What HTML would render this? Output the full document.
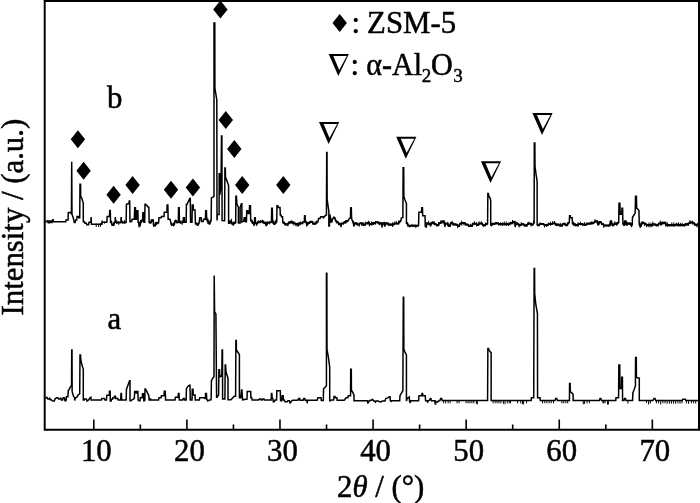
<!DOCTYPE html>
<html><head><meta charset="utf-8"><title>XRD patterns</title>
<style>
html,body{margin:0;padding:0;background:#fff}
body{width:700px;height:503px;overflow:hidden;font-family:"Liberation Serif",serif}
svg{display:block;position:absolute;left:0;top:0;filter:grayscale(1)}
text{font-family:"Liberation Serif",serif;font-size:30.8px;fill:#000;stroke:#000;stroke-width:0.5px}
.tr{fill:none;stroke:#000;stroke-width:1.5;stroke-linejoin:miter;stroke-miterlimit:2}
</style></head>
<body>
<svg width="700" height="503" viewBox="0 0 700 503">
<rect x="0" y="0" width="700" height="503" fill="#fff"/>
<path class="tr" d="M45.43 221.86 L46.86 221.86 L47.14 220.71 L48 220.71 L48.29 222.86 L49.43 222.86 L49.71 221 L50.86 221 L51.14 222.43 L52 222.43 L52.29 220.43 L53.14 219.29 L53.57 221.86 L65.71 221.86 L66 220 L68 220 L68.29 212.43 L70.43 212.43 L71.43 214.14 L71.71 161.86 L72 214.14 L73.43 218.57 L74.29 222.43 L75.14 222.43 L75.71 220 L76.71 220 L77 216.43 L78.57 216.43 L78.71 217.86 L79.71 217.86 L80 184.29 L80.57 184.29 L80.71 196.43 L81.71 198.14 L83.29 203.29 L83.29 221.86 L84.57 221.86 L85 223.29 L86.43 223.29 L86.86 224.71 L88.57 224.71 L89 222.14 L90.86 222.14 L91.14 217.14 L91.43 224.29 L101.43 224.29 L101.71 222.14 L106.86 222.14 L107.14 216.43 L109.43 216.43 L109.71 210.43 L110.29 210.43 L110.57 222.14 L111.43 222.14 L112.14 224.71 L113.57 224.71 L114.29 222.14 L115.14 222.14 L115.29 217.14 L115.71 222.14 L120.86 222.14 L121.14 217.14 L121.57 222.14 L126.14 222.14 L126.43 204.29 L128.86 203.57 L129.29 201 L129.71 201 L130 222.14 L130.71 221.43 L131.71 221.43 L132.14 219.29 L134.29 219.29 L134.71 207.86 L135.43 207.86 L135.71 219.29 L136.43 219.29 L136.71 210.71 L137.86 210.71 L138.14 222.14 L138.86 222.14 L139.14 225 L140.29 225 L140.71 220.71 L142.57 220.71 L142.86 212.86 L143.57 212.86 L143.86 222.14 L144.71 222.14 L145 204.29 L145.71 204.29 L148.29 207.14 L148.86 207.14 L149.14 222.14 L151.14 222.14 L151.43 220 L153.29 220 L153.57 225 L155.43 225 L155.71 222.86 L158.57 222.86 L159 217.86 L161.14 217.86 L161.43 216.43 L164 216.43 L164.29 212.14 L166.86 212.14 L167.14 205 L167.86 205 L168.14 219.29 L170 219.29 L170.71 222.14 L171.43 224.29 L174.29 224.29 L175 220.71 L176.43 220.71 L176.86 222.14 L178.29 222.14 L178.57 207.86 L179.14 207.86 L179.43 222.14 L183.14 222.14 L183.43 217.86 L184.29 217.86 L184.57 222.14 L186.14 222.14 L186.43 204.29 L187.14 204.29 L189.71 198.57 L190.29 198.57 L190.57 222.14 L192 222.14 L192.29 205 L193.14 205 L193.43 210 L195 210 L195.43 223.57 L197.14 223.57 L197.86 225 L199.29 222.14 L199.71 217.86 L201.14 217.86 L201.43 221.45 L203.14 221.47 L203.57 219.34 L205.43 219.36 L205.71 210.71 L206.43 210.71 L206.71 220.09 L207.86 220.1 L208.29 222.97 L210 222.99 L210.29 220.85 L211.14 220.86 L211.43 197.86 L212.86 197.14 L214 196.43 L214 23 L214.8 23 L214.9 88 L216.8 100 L217 220.53 L217.3 214.4 L219.1 214.4 L219.2 173.8 L219.6 173.8 L219.8 195 L221 187 L221.5 136 L221.9 136 L222.1 220.59 L224.6 220.63 L224.9 167.9 L225.3 167.9 L225.5 177 L228.6 185.6 L228.6 221.98 L228.57 222.52 L230 222.54 L230.43 221.11 L231.43 221.11 L231.86 223.26 L232.86 223.26 L233.29 224.69 L233.86 222.55 L235.71 222.55 L235.86 196.29 L236.43 196.29 L236.86 203.86 L238.43 207.43 L238.43 222.98 L240.14 222.98 L240.14 207.14 L241.43 203.86 L241.86 203.86 L241.86 222.13 L243.86 221.13 L244.14 217.86 L245 217.86 L245.29 221.85 L246.43 221.85 L246.71 210.71 L247.86 210.71 L248.14 213.57 L249.29 213.57 L249.57 205.71 L250.43 205.71 L250.71 220.43 L251.86 220.43 L252.43 222.57 L253.57 222.57 L254.14 225.43 L254.71 217.86 L255.29 217.86 L255.57 223.3 L257.14 223.3 L257.86 221.87 L260 221.87 L260.43 221.15 L263.57 221.16 L263.86 222.59 L265.71 222.59 L266.14 225.45 L267.14 222.59 L270.71 221.89 L271.43 221.89 L271.71 208.14 L272.29 208.14 L272.57 222.6 L274.29 222.6 L274.71 224.03 L275.29 221.89 L276.71 221.9 L277 205.71 L277.86 205.71 L278.14 207.57 L280 207.57 L280.29 215 L281 215 L281.43 216.71 L282.57 216.71 L282.86 222.62 L284.29 222.62 L285 224.05 L287.86 224.05 L288.57 222.34 L290 222.35 L290.71 221.49 L292.14 221.49 L292.86 222.92 L295 222.92 L295.71 223.78 L297.86 223.79 L298.57 225.21 L299.29 222.93 L302.14 222.94 L302.86 221.95 L304.29 221.95 L304.57 215.71 L305.14 215.71 L305.43 221.96 L306.43 221.96 L306.71 225.54 L307.57 222.68 L309.29 222.69 L310 221.55 L312.14 221.57 L312.86 223.43 L315.71 223.44 L316.43 222.02 L317.86 222.03 L318.57 218.57 L320 218.57 L320.71 216.71 L322.86 216.71 L323.29 217.86 L323.57 217.86 L323.86 217.14 L325.29 215.71 L326.43 215 L326.71 152.43 L327 152.43 L327.14 199.29 L328.86 211.43 L328.86 225.95 L329.43 225.95 L329.86 214.29 L330.43 217.86 L331 222.1 L331.86 222.1 L332.43 218.57 L333.57 218.57 L334 217.14 L335 217.86 L335.43 220.69 L336.43 220.7 L336.71 221.7 L337.86 221.7 L338.57 223.57 L340.43 223.58 L341 225.72 L341.57 223.15 L343.57 223.16 L344.29 221.74 L345.71 221.75 L346.43 220.75 L348.14 220.76 L349.29 218.57 L350.43 217.86 L350.71 207.86 L351.29 207.86 L351.57 218.57 L352.43 220.78 L353.29 221.79 L353.86 225.79 L354.43 222.93 L356.43 222.94 L357.14 224.1 L359.29 224.11 L360 222.96 L362.14 222.97 L362.86 224.41 L365 224.42 L365.71 222.99 L367.86 222.73 L368.57 221.87 L369.29 223.73 L372.14 223.75 L372.86 222.75 L375 222.76 L375.71 221.91 L377.86 221.92 L378.57 223.06 L380.71 223.07 L381.43 222.37 L382.14 225.94 L382.86 223.09 L384.29 223.09 L384.71 225.96 L385.29 223.1 L387.86 223.11 L388.57 224.27 L393.57 224.29 L394.29 223.15 L398.57 223.17 L399.29 221.46 L400.71 221.04 L401.43 218.14 L402.86 217.57 L403.14 167.86 L403.71 167.86 L403.86 196.43 L405 200 L406.43 203.57 L406.43 223.21 L407.57 223.22 L407.86 225.37 L418.57 225.43 L418.86 212.14 L421.43 212.14 L421.86 207.86 L422.43 207.86 L422.71 215.71 L425 215.71 L425.29 226.17 L426.43 226.18 L426.71 223.04 L428.57 223.05 L429.29 224.06 L431.43 224.06 L432.14 222.21 L433.57 222.21 L434.29 223.64 L435.71 223.65 L436.43 224.79 L438.57 224.79 L439 222.65 L440.71 222.66 L441.43 221.23 L444.29 221.24 L444.71 226.24 L445.29 223.38 L447.86 223.39 L448.57 225.54 L450 225.54 L450.71 222.69 L452.14 222.69 L453.57 224.12 L456.43 224.13 L457.86 225.57 L459.29 225.57 L460 223.42 L462.14 222.72 L465 222.73 L465.71 224.16 L467.86 224.16 L468.57 225.6 L472.14 225.6 L472.86 223.46 L476.43 223.47 L477.14 224.62 L478.57 224.62 L479 223.19 L482.14 223.2 L482.86 224.91 L485 224.92 L485.71 223.78 L487.57 223.79 L487.86 193.57 L488.43 193.57 L488.71 195.71 L489.86 197.86 L490.71 200 L490.71 224.94 L491.57 224.94 L492.14 223.51 L495 223.52 L495.71 222.81 L497.86 222.82 L498.57 223.82 L504.86 223.83 L504.86 223.83 L509.29 223.85 L510 222.85 L512.14 222.85 L512.86 221.86 L515 221.86 L515.29 226.43 L515.86 223.29 L517.86 223.3 L518.57 224.73 L520.71 224.74 L521.43 223.88 L523.57 223.89 L524.29 225.03 L527.14 225.03 L527.86 223.33 L530.71 223.33 L531.43 224.34 L532.86 224.34 L533.57 222.91 L534.14 222.91 L534.29 143 L534.86 143 L535 166.43 L536.14 175 L537.14 181.43 L537.14 224.78 L539.29 224.79 L540 223.64 L543.57 223.64 L544.29 224.79 L547.86 224.79 L548.57 223.64 L552.14 223.64 L552.86 222.93 L555 222.93 L555.71 224.36 L558.57 224.36 L559.29 225.07 L562.14 225.07 L562.86 223.64 L565 223.64 L565.71 224.79 L567.14 224.79 L567.86 222.93 L569.29 222.5 L569.57 215.71 L570.29 215.71 L570.57 217.86 L572.14 217.86 L572.57 223.64 L574.29 223.64 L575 224.79 L577.86 224.79 L578.57 223.64 L582.14 223.64 L582.86 224.36 L586.43 224.36 L587.14 223.36 L590.71 223.36 L591.43 222.5 L593.57 222.5 L594.86 221.5 L595 221 L597.25 221 L597.7 224 L598.75 224 L599.2 221.75 L601 221.75 L601.75 223.7 L603.25 223.7 L603.7 225.2 L610 225.2 L610.45 221 L611.5 221 L611.95 224.3 L613 224.3 L613.45 225.2 L614.5 223.25 L616 223.25 L616.75 224.3 L617.5 222.5 L618.7 222.5 L619 203.3 L619.9 203.3 L620.2 214.25 L621.7 214.25 L622 208.25 L622.6 208.25 L622.9 224 L623.8 224 L624.25 225.2 L624.7 221 L625.75 221 L626.2 224.3 L627.25 224.3 L627.7 223.25 L630.25 223.25 L631 224.75 L632.2 224.75 L632.5 217.25 L634 215 L635.2 212.75 L635.5 196.25 L636.4 196.25 L636.7 208.25 L637.75 209 L638.95 210.5 L639.25 224.75 L640 225.5 L641.2 225.5 L641.5 222.5 L643.75 222.5 L644.2 223.25 L646 223.7 L646.75 224.75 L652 224.75 L652.75 224 L655 224 L655.75 224.75 L658 224.75 L658.75 223.7 L660.25 222.8 L661 224.75 L661.75 222.8 L665.5 222.8 L666.25 224.75 L676 224.75 L676.75 223.7 L677.5 224.75 L685 224.75 L685.75 223.7 L687.25 223.7 L688 224.3 L689.5 222.5 L692.5 221.9 L694 223.25 L695.49 224.3 L696.99 224.75 L698.19 223.25"/>
<path class="tr" d="M45.43 398.57 L46 397.57 L47.14 397.57 L47.86 399 L49.29 399 L49.71 397.86 L50.29 399.57 L51.43 400 L52.86 401 L54.29 401 L55 399 L56.43 397.86 L57.86 397.86 L58.57 399 L60 399 L60.71 397.86 L61.43 400 L62.57 400 L63.14 397.86 L64.29 397.86 L65 400.71 L66 400.71 L66.43 396.71 L67.86 396.71 L68.29 390.43 L69.29 389.29 L70.43 386.71 L71.57 385.71 L71.71 350 L72 350 L72.14 391.43 L72.86 394.29 L73.71 396.71 L74.57 397.57 L74.71 400.43 L75.43 397.86 L76.43 397.29 L77.43 396.43 L78.29 394.71 L79.71 393.86 L80 355 L80.57 355 L80.71 358.57 L81.43 362.86 L82.43 366.43 L83.29 369 L83.29 400 L84.29 400 L84.71 399 L86.43 399 L87.14 401 L88.57 400 L90 397.86 L90.86 397.29 L91.14 400 L101.43 400 L101.86 398.57 L104.29 398.57 L105 400 L106.43 400 L106.86 395.29 L109.29 395 L109.43 391.14 L110.14 391.14 L110.29 401 L111.14 401 L111.43 399.29 L112.57 399.29 L112.86 397.86 L114.29 397.86 L114.57 396.14 L115.43 396.14 L115.71 398.57 L117.86 398.57 L118.29 400 L120.71 400 L121 393.57 L121.43 393.57 L121.71 400 L126.14 400 L126.43 389.29 L127.43 386.71 L128.57 383.57 L129.57 380.71 L130 380.71 L130 400.71 L130 400.71 L131.14 400.71 L131.71 400 L132.86 399.29 L134.29 398.57 L134.71 391.43 L136 391.43 L136.29 393.57 L136.86 391.43 L137.86 391.43 L138.14 400 L138.86 400.71 L140 400.71 L140.29 397.86 L142.14 397.86 L142.57 393.86 L143.57 393.86 L143.86 401.43 L144.29 400 L144.86 400 L145 389 L145.43 389 L146.86 391.43 L148.29 394.71 L148.86 395.71 L149.14 400 L150 400 L150.43 398.57 L151.14 400 L158.57 400 L159 397.86 L161.14 397.86 L161.43 395.71 L164 395.71 L164.29 391.14 L165.29 391.14 L165.57 400 L175 400 L175.43 397.14 L178.14 397.14 L178.43 393.57 L179 393.57 L179.29 400 L182.86 400 L183.29 398.57 L184.29 398.57 L184.71 400 L186.14 400 L186.43 388.57 L187.86 386.43 L189.29 385.29 L190 384.71 L190.29 400 L192 400 L192.29 389.29 L193 389.29 L193.29 395 L195 395 L195.29 400 L199.29 400 L199.71 397.86 L204.29 397.86 L205 398.57 L205.43 398.57 L205.57 393.57 L206.43 393.57 L206.71 399.29 L207.86 401 L209.29 400 L210.71 400 L211.14 399 L211.43 380.71 L212.86 377.86 L214 376.71 L214.2 275.5 L214.6 312 L215.9 314 L216.6 397.7 L218.6 395 L218.9 369.8 L219.5 369.8 L219.8 376.8 L221.8 376 L222.1 350 L222.5 350 L222.6 399 L224.9 399 L225.2 365 L225.6 365 L226 372 L228 378.2 L228 399.8 L231 399.8 L234.2 396.3 L235.6 396.3 L235.9 340.6 L236.3 340.6 L236.4 350 L239.4 354.5 L239.4 397.7 L240.8 397.7 L241.5 390 L241.9 390 L242.6 399.8 L247 399 L247.2 391.4 L250.3 391.4 L250.29 391.43 L250.71 391.43 L250.86 397.86 L251.71 397.86 L252.14 400 L258.57 400 L259.29 399 L260.71 399 L261.14 400 L262.14 400 L262.57 399 L264 399 L264.29 400 L271.14 400 L271.43 393.57 L271.86 393.57 L272.14 397.86 L272.86 398.57 L273.29 401.86 L274.29 401.86 L275 400 L276.57 400 L276.86 390.71 L280.29 390.71 L280.57 400.71 L281.71 400.71 L282.29 395.71 L283.14 395.71 L283.43 400 L284.29 400 L285 401.86 L287.14 401.86 L287.86 400.71 L289.29 400.71 L290 403.29 L291.43 401 L292.86 400.14 L297.86 400.14 L298.57 398.57 L299.71 398.57 L300 400.14 L303.14 400.14 L303.71 398.57 L304.86 398.57 L305.14 400.14 L306.86 400.14 L307.14 403.29 L307.57 400.14 L317.14 400.14 L317.86 397.86 L321 397.86 L321.29 400.43 L323.29 400.43 L323.57 388.57 L325 387.57 L326.43 385.71 L326.43 273.29 L326.86 273.29 L327 349.29 L328.29 356.43 L329.71 367.14 L329.71 400.71 L330.71 400.71 L331.43 400 L333.57 400 L334 396.43 L335 396.43 L335.43 397.86 L336.86 397.86 L337.14 400.14 L344.29 400.14 L345 399.29 L346 397.86 L347.86 397.86 L348.29 395.71 L349.86 395.71 L349.86 395.71 L350.57 395.71 L350.71 369.29 L351.29 369.29 L351.43 390 L352.57 392.14 L354 395 L354 400.71 L367.43 400.71 L367.86 403.57 L368.57 401.86 L369.29 400.71 L371.71 400 L372.57 399.29 L373.57 401 L375 401 L375.43 402.14 L376.43 401 L378.57 401 L379.29 401.86 L381.43 401.86 L382.14 401 L385 401 L385.71 398.57 L387.86 397.86 L389.29 396.71 L390 396.71 L390.29 400.71 L391.14 401.43 L391.71 400.71 L399.71 400.71 L400 395.71 L401.14 393.57 L402.86 390.71 L403.29 297.29 L403.71 297.29 L403.86 349.29 L405 352.14 L406.43 355 L406.43 401 L407.14 398.57 L409.29 397.14 L409.57 401 L410.29 402.86 L410.86 400.71 L418.57 400.71 L419 395.71 L421.71 395.71 L422 393.57 L422.57 393.57 L422.86 395.71 L425.29 395.71 L425.57 400.71 L427.14 400.71 L427.57 402.14 L428.29 400.71 L429.71 400 L430.29 398.57 L430.86 398.57 L431.43 400.71 L435 400.71 L435.71 402.14 L437.14 402.14 L438.57 401 L439.86 400.71 L439.86 400.43 L440.71 398.57 L441.71 398.57 L442.14 400.43 L487.57 400.43 L487.86 348.57 L488.57 348.57 L488.86 350 L491.14 352.86 L491.14 400.43 L520 400.43 L520 400.43 L531.14 400.43 L531.43 397.86 L533.71 397.86 L534.14 268.57 L534.57 268.57 L534.71 293.57 L535.71 303.57 L537.43 313.57 L537.57 397.86 L540 397.86 L540.29 400.43 L555 400.43 L555.71 398.57 L556.86 398.57 L557.43 400.43 L569.43 400.43 L569.57 383.57 L570.14 383.57 L570.29 391.43 L571.71 392.86 L573.14 394.29 L573.14 400.43 L599.29 400.43 L600 398.57 L600.86 398.57 L601.43 400.43 L615.71 400.43 L616 397.86 L618.57 397.86 L618.86 365 L619.71 365 L620 388.57 L621.57 388.57 L621.71 377.14 L622.43 377.14 L622.57 400.43 L624 400.43 L624.57 398.57 L625.43 398.57 L626 400.43 L632.57 400.43 L632.86 392.86 L634.29 389.29 L635.43 385.71 L635.57 357.57 L636.29 357.57 L636.43 377.14 L637.43 377.86 L639.29 378.14 L639.29 400.43 L652.86 400.43 L654 398.57 L655 398.57 L655.71 400.43 L682.14 400.43 L682.86 399.29 L685.43 399.29 L686 400.43 L698.29 400.43"/>
<path class="tr" style="stroke-width:1.2" d="M110.57 222.94 L111.43 222.94 L112.14 225.51 L113.57 225.51 L114.29 222.94 L115.14 222.94 M115.71 222.94 L120.86 222.94 M121.57 222.94 L126.14 222.94 M138.14 222.94 L138.86 222.94 L139.14 225.8 L140.29 225.8 L140.71 221.51 L142.57 221.51 M149.14 222.94 L151.14 222.94 L151.43 220.8 L153.29 220.8 L153.57 225.8 L155.43 225.8 L155.71 223.66 L158.57 223.66 M170.71 222.94 L171.43 225.09 L174.29 225.09 L175 221.51 L176.43 221.51 L176.86 222.94 L178.29 222.94 M179.43 222.94 L183.14 222.94 M195.43 224.37 L197.14 224.37 L197.86 225.8 L199.29 222.94 M206.71 220.89 L207.86 220.9 L208.29 223.77 L210 223.79 L210.29 221.65 L211.14 221.66 M228.6 222.78 L228.57 223.32 L230 223.34 L230.43 221.91 L231.43 221.91 L231.86 224.06 L232.86 224.06 L233.29 225.49 L233.86 223.35 L235.71 223.35 M250.71 221.23 L251.86 221.23 L252.43 223.37 L253.57 223.37 L254.14 226.23 M255.57 224.1 L257.14 224.1 L257.86 222.67 L260 222.67 L260.43 221.95 L263.57 221.96 L263.86 223.39 L265.71 223.39 L266.14 226.25 L267.14 223.39 L270.71 222.69 L271.43 222.69 M272.57 223.4 L274.29 223.4 L274.71 224.83 L275.29 222.69 L276.71 222.7 M282.86 223.42 L284.29 223.42 L285 224.85 L287.86 224.85 L288.57 223.14 L290 223.15 L290.71 222.29 L292.14 222.29 L292.86 223.72 L295 223.72 L295.71 224.58 L297.86 224.59 L298.57 226.01 L299.29 223.73 L302.14 223.74 L302.86 222.75 L304.29 222.75 M305.43 222.76 L306.43 222.76 L306.71 226.34 L307.57 223.48 L309.29 223.49 L310 222.35 L312.14 222.37 L312.86 224.23 L315.71 224.24 L316.43 222.82 L317.86 222.83 M335.43 221.49 L336.43 221.5 L336.71 222.5 L337.86 222.5 L338.57 224.37 L340.43 224.38 L341 226.52 L341.57 223.95 L343.57 223.96 L344.29 222.54 L345.71 222.55 L346.43 221.55 L348.14 221.56 M352.43 221.58 L353.29 222.59 L353.86 226.59 L354.43 223.73 L356.43 223.74 L357.14 224.9 L359.29 224.91 L360 223.76 L362.14 223.77 L362.86 225.21 L365 225.22 L365.71 223.79 L367.86 223.53 L368.57 222.67 L369.29 224.53 L372.14 224.55 L372.86 223.55 L375 223.56 L375.71 222.71 L377.86 222.72 L378.57 223.86 L380.71 223.87 L381.43 223.17 L382.14 226.74 L382.86 223.89 L384.29 223.89 L384.71 226.76 L385.29 223.9 L387.86 223.91 L388.57 225.07 L393.57 225.09 L394.29 223.95 L398.57 223.97 L399.29 222.26 L400.71 221.84 M406.43 224.01 L407.57 224.02 L407.86 226.17 L418.57 226.23 M425.29 226.97 L426.43 226.98 L426.71 223.84 L428.57 223.85 L429.29 224.86 L431.43 224.86 L432.14 223.01 L433.57 223.01 L434.29 224.44 L435.71 224.45 L436.43 225.59 L438.57 225.59 L439 223.45 L440.71 223.46 L441.43 222.03 L444.29 222.04 L444.71 227.04 L445.29 224.18 L447.86 224.19 L448.57 226.34 L450 226.34 L450.71 223.49 L452.14 223.49 L453.57 224.92 L456.43 224.93 L457.86 226.37 L459.29 226.37 L460 224.22 L462.14 223.52 L465 223.53 L465.71 224.96 L467.86 224.96 L468.57 226.4 L472.14 226.4 L472.86 224.26 L476.43 224.27 L477.14 225.42 L478.57 225.42 L479 223.99 L482.14 224 L482.86 225.71 L485 225.72 L485.71 224.58 L487.57 224.59 M490.71 225.74 L491.57 225.74 L492.14 224.31 L495 224.32 L495.71 223.61 L497.86 223.62 L498.57 224.62 L504.86 224.63 L504.86 224.63 L509.29 224.65 L510 223.65 L512.14 223.65 L512.86 222.66 L515 222.66 L515.29 227.23 L515.86 224.09 L517.86 224.1 L518.57 225.53 L520.71 225.54 L521.43 224.68 L523.57 224.69 L524.29 225.83 L527.14 225.83 L527.86 224.13 L530.71 224.13 L531.43 225.14 L532.86 225.14 L533.57 223.71 L534.14 223.71 M537.14 225.58 L539.29 225.59 L540 224.44 L543.57 224.44 L544.29 225.59 L547.86 225.59 L548.57 224.44 L552.14 224.44 L552.86 223.73 L555 223.73 L555.71 225.16 L558.57 225.16 L559.29 225.87 L562.14 225.87 L562.86 224.44 L565 224.44 L565.71 225.59 L567.14 225.59 L567.86 223.73 L569.29 223.3 M572.57 224.44 L574.29 224.44 L575 225.59 L577.86 225.59 L578.57 224.44 L582.14 224.44 L582.86 225.16 L586.43 225.16 L587.14 224.16 L590.71 224.16 L591.43 223.3 L593.57 223.3 L594.86 222.3 L595 221.8 L597.25 221.8 L597.7 224.8 L598.75 224.8 L599.2 222.55 L601 222.55 L601.75 224.5 L603.25 224.5 L603.7 226 L610 226 L610.45 221.8 L611.5 221.8 L611.95 225.1 L613 225.1 L613.45 226 L614.5 224.05 L616 224.05 L616.75 225.1 L617.5 223.3 L618.7 223.3 M622.9 224.8 L623.8 224.8 L624.25 226 L624.7 221.8 L625.75 221.8 L626.2 225.1 L627.25 225.1 L627.7 224.05 L630.25 224.05 L631 225.55 L632.2 225.55 M639.25 225.55 L640 226.3 L641.2 226.3 L641.5 223.3 L643.75 223.3 L644.2 224.05 L646 224.5 L646.75 225.55 L652 225.55 L652.75 224.8 L655 224.8 L655.75 225.55 L658 225.55 L658.75 224.5 L660.25 223.6 L661 225.55 L661.75 223.6 L665.5 223.6 L666.25 225.55 L676 225.55 L676.75 224.5 L677.5 225.55 L685 225.55 L685.75 224.5 L687.25 224.5 L688 225.1 L689.5 223.3 L692.5 222.7 L694 224.05 L695.49 225.1 L696.99 225.55 L698.19 224.05"/>
<path fill="none" stroke="#000" stroke-width="1" d="M96.2 223.7v3.3 M98.6 223.7v3.3 M100.4 223.4v3.6 M102.2 220.2v4.6 M104.6 221.5v2.2 M111.6 220.7v3.5 M113.8 222.5v3.1 M116.7 220.2v3.7 M118.7 221.5v3.3 M122.6 220.9v2.6 M124.4 220.2v3.3 M139.1 223.5v4.2 M141.5 219.5v3.4 M150.1 220.9v3 M152.1 219.1v2.5 M153.9 223.1v3.7 M156.3 221.7v3.4 M171.7 222.4v3.3 M173.5 222.4v4.1 M175.5 219.5v2.8 M180.4 220.6v2.9 M182.2 220.2v4.6 M196.4 222.4v3 M207.7 218.2v4.1 M209.5 222.4v2.4 M229.6 220.2v3.7 M231.4 218.8v4.1 M233.8 221.6v3.4 M251.7 219.8v2.8 M256.6 222.4v3.6 M258.4 220.4v2.9 M260.4 220.1v2.8 M262.4 219.7v3.7 M264.8 222v2.2 M267.2 221.1v4.2 M269.4 221.3v3.1 M273.6 220.3v4.5 M275.8 219.6v4.5 M283.9 221.7v2.3 M285.9 223.2v2.5 M287.9 223.5v2.8 M289.9 221.1v3 M291.7 220.6v3.1 M293.9 221v4.6 M296.1 222.9v3.6 M297.9 222.3v4.2 M300.3 221.4v3.7 M302.7 221.6v2.8 M306.4 221.4v2.2 M308.2 221.8v3.1 M310.2 221v2.4 M312 221v2 M314 221.5v3.3 M316.2 220.5v3.3 M336.4 219.8v3.6 M338.8 222.7v2.7 M341 223.7v3.7 M343.4 222.6v2 M345.8 220.1v3.7 M353.4 221.6v2.6 M355.4 222.3v2.4 M357.6 222.6v3.1 M359.4 223v3.6 M361.6 222.1v3.6 M363.4 222.5v3.7 M365.2 221.7v4.1 M367.4 221.9v2.7 M369.4 221.8v4.6 M371.6 221.4v3.9 M373.6 221.9v3.1 M375.6 221.1v3.6 M378 221v2.6 M379.8 221.9v3.4 M382 224.5v3.6 M384.2 221.6v3.3 M386.4 222.5v2.2 M388.2 222.8v3.1 M390.2 223.1v2.8 M392.6 222.4v4.6 M394.4 221.7v3.3 M396.2 220.9v3.7 M398.6 220.7v3.9 M407.4 222.3v3.1 M409.6 224.8v2.8 M412 223.9v2.9 M414 224.5v2.5 M415.8 224.5v3.6 M426.3 223.9v3.9 M428.7 220.9v4.1 M430.7 222.2v4.6 M432.7 221.6v2 M434.5 221.7v3.5 M436.9 223.9v2.5 M438.7 223v2.8 M440.9 220.4v3.5 M443.1 220v3.9 M445.5 222.5v2.3 M447.7 221.9v4.2 M450.1 223.3v3.5 M452.1 220.8v4.6 M453.9 222.6v3.1 M455.7 223.2v2.5 M457.7 223.9v4.2 M459.5 223.1v3.3 M461.7 220.6v5 M464.1 222.1v3.3 M465.9 223.3v2.5 M468.1 224v2 M470.5 223.7v3.3 M472.3 223.7v3.3 M474.3 221.2v4.1 M476.7 222v4.6 M479.1 221.3v3.5 M481.3 221.3v3.5 M483.7 224v3.1 M485.5 222.6v3.7 M491.7 224v2.2 M494.1 222.9v2.2 M496.3 222.2v2.2 M498.5 222.8v2.7 M500.5 222.3v3.1 M502.3 222.3v3.7 M504.3 221.5v3.9 M506.3 221.5v4.5 M508.7 222.6v3.4 M510.7 221.7v3 M512.5 220v4.1 M514.3 220.7v3.9 M516.7 221.8v2.9 M519.1 223.5v3.9 M521.3 222.1v3.3 M523.1 223v2.3 M524.9 223.8v3 M526.7 224.1v2.7 M528.7 221.8v3.3 M531.1 223v3.6 M533.5 220.7v4.1 M538.1 223.6v2.6 M540.1 222.1v2.9 M542.3 223v2 M544.5 224.2v3.3 M546.5 224.2v2.4 M548.3 222.5v2.9 M550.5 221.7v4.1 M552.7 221.1v3.5 M554.5 221v3.5 M556.3 223.5v2.7 M558.1 223.5v2.5 M560.3 222.8v4.1 M562.3 223.5v3.4 M564.3 222.4v3 M566.1 223.6v2.6 M567.9 222.3v3.3 M573.6 221.7v4.1 M575.6 223.3v2.9 M578 222.3v4.5 M580.4 221.7v3.7 M582.4 223v2.7 M584.4 222.1v3.9 M586.8 222.7v2.6 M588.8 222.8v2 M591 221.5v3.1 M592.8 221.9v2.8 M595 219.2v3.5 M597.2 220.4v2.8 M599.2 221v2.7 M601.6 222.6v2.4 M603.8 224v3.9 M606 224.3v2.3 M608.2 224.3v2.7 M610.2 223v2.4 M612.6 223.7v2.8 M614.8 221.3v3.5 M616.8 222.4v3.3 M623.9 223.1v2.6 M625.9 220.6v4.2 M627.7 221.8v2.9 M629.9 222.1v2.8 M631.7 222.8v4.6 M640.2 223.2v5 M642.6 221.3v3.4 M644.6 222.2v3.9 M646.6 224v3.3 M649 222.4v5 M651 222.8v4.6 M652.8 221.7v5 M654.8 223.4v2 M656.6 223.8v2.7 M658.4 222.6v3.7 M660.2 220.5v3.7 M662.2 221.3v3.3 M664 221.3v2.9 M665.8 221.4v5 M667.6 222.4v4.5 M669.8 224.2v2.4 M671.8 222.4v3.9 M673.8 222.4v4.5 M676.2 222.9v2.9 M678.6 222.4v4.1 M680.4 222.8v3.5 M682.2 222.8v3.5 M684.4 223.6v3 M686.4 223.1v2.8 M688.2 222.5v3.3 M690 220.1v3.9 M692.4 220.7v3.9 M694.6 222.2v3.7 M697 224.1v3.3"/>
<path fill="none" stroke="#000" stroke-width="1" d="M427.6 400.4v2.7 M434.8 400.4v4.1 M435.8 400.4v4.7 M443.6 400.4v2.9 M445.6 400.4v2.9 M448.1 400.4v2.9 M450.1 400.4v2.9 M457.1 400.4v2.9 M459.1 400.4v2.9 M466.1 400.4v2.9 M468.1 400.4v2.9 M470 400.4v2.9 M471.9 400.4v2.9 M473.8 400.4v2.9 M476.4 400.4v3.5 M477.4 400.4v3.9 M493.1 400.4v2.9 M495.1 400.4v2.9 M497 400.4v2.9 M498.9 400.4v2.9 M500.8 400.4v2.9 M503.4 400.4v3.5 M505 400.4v3.8 M507.3 400.4v2.9 M509.2 400.4v2.9 M510.5 400.4v2.9 M517.6 400.4v2.9 M520.8 400.4v3.1 M522.5 400.4v3.8 M523.6 400.4v4 M526.6 400.4v2.9 M542.6 400.4v2.9 M544.8 400.4v2.9 M546.9 400.4v2.9 M549.1 400.4v2.9 M551.2 400.4v2.9 M553.6 400.4v2.9 M561.9 400.4v2.9 M563.8 400.4v2.9 M565.8 400.4v2.9 M567.7 400.4v2.9 M583.3 400.4v3.9 M584.6 400.4v3.5 M587 400.4v2.9 M589.3 400.4v2.9 M603.7 400.4v2.9 M602.9 400.4v2.7 M605 400.4v2.9 M607.5 400.4v4.1 M608.4 400.4v4.1 M627.9 400.4v3.3 M646.4 400.4v2.5 M648.6 400.4v4.1 M650.3 400.4v3.1 M656.4 400.4v2.9 M658.6 400.4v2.9 M660.7 400.4v4.1 M662.9 400.4v2.9 M665 400.4v2.9 M667.1 400.4v3.3 M669.3 400.4v3.3 M671.4 400.4v3.3 M673.6 400.4v3.3 M675.7 400.4v3.3 M677.9 400.4v2.9 M680 400.4v3.3 M682.1 400.4v2.9 M686.4 400.4v2.9 M688.6 400.4v3.5 M691.4 400.4v2.9 M693.6 400.4v2.9 M695.7 400.4v3.1"/>
<path d="M44.7 0 V429.85 H700 M43.7 0.9 H700 M699 0 V430.8" fill="none" stroke="#000" stroke-width="2"/>
<path d="M93.80 429.85 v-10.4 M140.34 429.85 v-5.4 M186.89 429.85 v-10.4 M233.44 429.85 v-5.4 M279.98 429.85 v-10.4 M326.52 429.85 v-5.4 M373.07 429.85 v-10.4 M419.62 429.85 v-5.4 M466.16 429.85 v-10.4 M512.70 429.85 v-5.4 M559.25 429.85 v-10.4 M605.79 429.85 v-5.4 M652.34 429.85 v-10.4" fill="none" stroke="#000" stroke-width="1.6"/>
<g fill="#000">
<polygon points="70.7,139.3 77.9,130.3 85.1,139.3 77.9,148.3"/><polygon points="76.4,170.7 83.6,161.7 90.8,170.7 83.6,179.7"/><polygon points="106.4,194.7 113.6,185.7 120.8,194.7 113.6,203.7"/><polygon points="125.4,185 132.6,176 139.8,185 132.6,194"/><polygon points="163.8,189.7 171,180.7 178.2,189.7 171,198.7"/><polygon points="185.7,187.6 192.9,178.6 200.1,187.6 192.9,196.6"/><polygon points="213.2,9.6 220.4,0.6 227.6,9.6 220.4,18.6"/><polygon points="218.6,120 225.8,111 233,120 225.8,129"/><polygon points="227.1,149.1 234.3,140.1 241.5,149.1 234.3,158.1"/><polygon points="235,185 242.2,176 249.4,185 242.2,194"/><polygon points="276.1,185 283.3,176 290.5,185 283.3,194"/><polygon points="332.5,23.1 339.7,14.1 346.9,23.1 339.7,32.1"/>
<path fill-rule="evenodd" d="M319 122 h20.2 L328.6 143.9 Z M323.6 124 L329.5 138 L337.1 124 Z"/><path fill-rule="evenodd" d="M396.2 136.8 h20.2 L405.8 158.7 Z M400.8 138.8 L406.7 152.8 L414.3 138.8 Z"/><path fill-rule="evenodd" d="M480.9 161.2 h20.2 L490.5 183.1 Z M485.5 163.2 L491.4 177.2 L499 163.2 Z"/><path fill-rule="evenodd" d="M532.4 113 h20.2 L542 134.9 Z M537 115 L542.9 129 L550.5 115 Z"/><path fill-rule="evenodd" d="M328.7 54.1 h20.2 L338.3 76 Z M333.3 56.1 L339.2 70.1 L346.8 56.1 Z"/>
</g>
<text x="96.30" y="461.2" text-anchor="middle" font-size="32">10</text><text x="189.39" y="461.2" text-anchor="middle" font-size="32">20</text><text x="282.48" y="461.2" text-anchor="middle" font-size="32">30</text><text x="375.57" y="461.2" text-anchor="middle" font-size="32">40</text><text x="468.66" y="461.2" text-anchor="middle" font-size="32">50</text><text x="561.75" y="461.2" text-anchor="middle" font-size="32">60</text><text x="654.84" y="461.2" text-anchor="middle" font-size="32">70</text>
<text x="337" y="496.6"><tspan>2</tspan><tspan font-style="italic">θ</tspan><tspan> / (°)</tspan></text>
<text transform="translate(22.8 315.5) rotate(-90)">Intensity / (a.u.)</text>
<text x="107" y="107.6">b</text>
<text x="107.6" y="329.4">a</text>
<text x="351.5" y="32.6">:</text><text x="367.1" y="32.6">ZSM-5</text>
<text x="350.5" y="75.4">:</text><g transform="translate(366.3 75.3) scale(0.975 1)"><text x="0" y="0">α-Al<tspan font-size="19.5" dy="6.3" dx="-0.4">2</tspan><tspan dy="-6.3" dx="-0.2">O</tspan><tspan font-size="19.5" dy="6.3" dx="0.6">3</tspan></text></g>
</svg>
</body></html>
